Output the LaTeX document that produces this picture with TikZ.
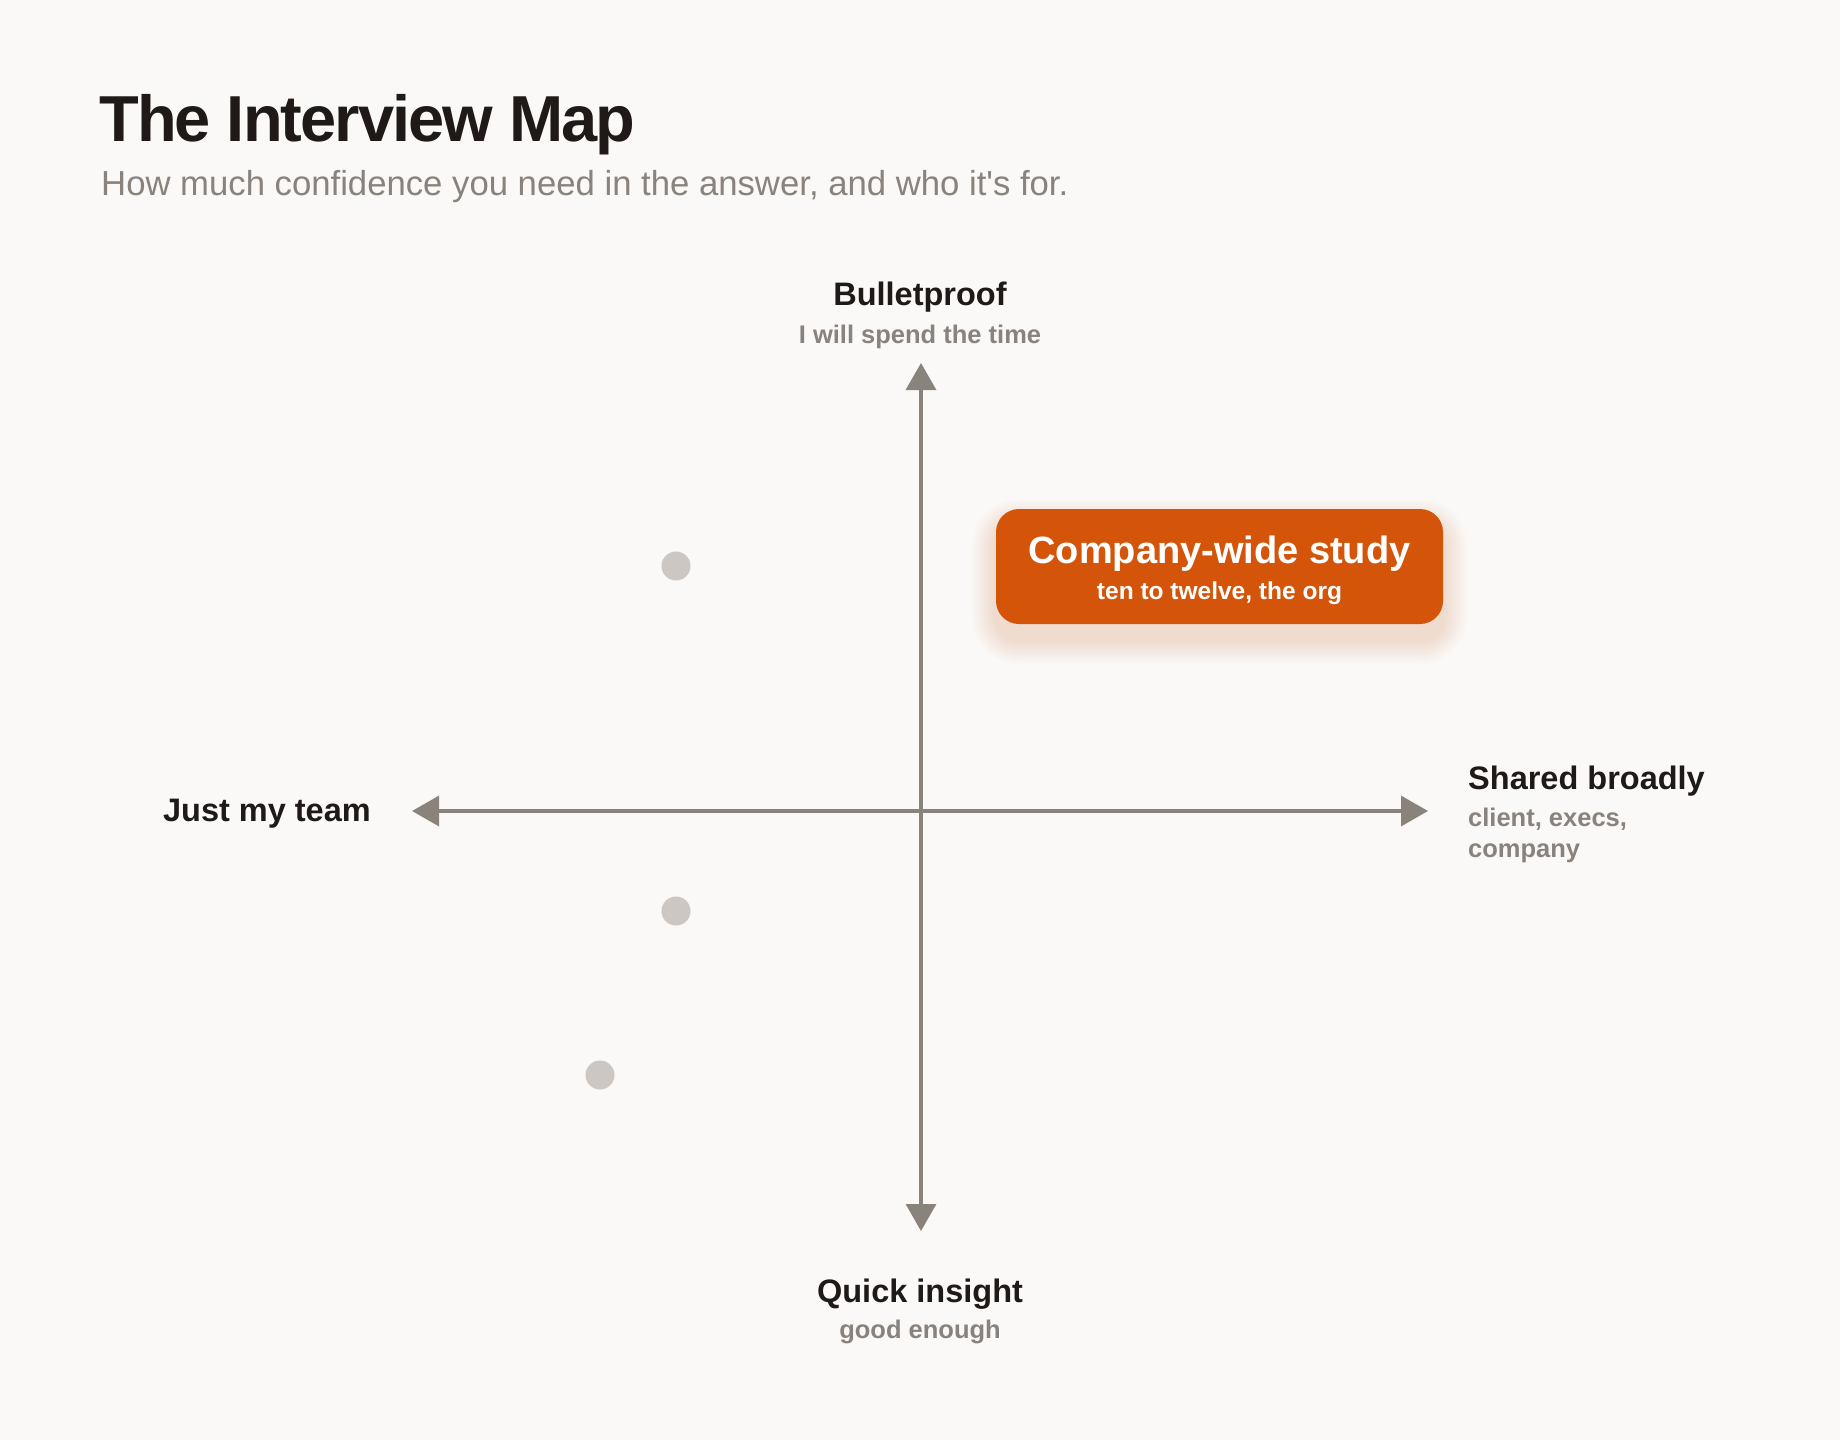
\documentclass[tikz,border=0pt]{standalone}
\usepackage{fontspec}
\setmainfont{Liberation Sans}
\usetikzlibrary{arrows.meta}
\definecolor{bg}{HTML}{FAF9F7}
\definecolor{ink}{HTML}{1F1A17}
\definecolor{muted}{HTML}{8A827C}
\definecolor{axisc}{HTML}{8A837C}
\definecolor{accent}{HTML}{D4550A}
\definecolor{dotc}{HTML}{CCC7C3}
\newfontfamily\titlefont[LetterSpace=-3]{Liberation Sans}
\newfontfamily\plainfont[Ligatures=TeXOff]{Liberation Sans}
\tikzset{
  x=1pt, y=-1pt,
  axisline/.style={draw=axisc, line width=3.5pt, {Triangle[width=30pt,length=27pt]}-{Triangle[width=30pt,length=27pt]}},
  poletitle/.style={font=\bfseries\fontsize{32.5}{36}\selectfont, text=ink, inner sep=0pt, anchor=base},
  polesub/.style={font=\bfseries\fontsize{25.5}{32}\selectfont, text=muted, inner sep=0pt, anchor=base},
  greydot/.style={circle, fill=dotc, minimum size=29pt, inner sep=0pt},
  studybox/.style={rounded corners=23pt, fill=accent, minimum width=447pt, minimum height=115pt, inner sep=0pt},
}
\begin{document}
\begin{tikzpicture}
\fill[bg] (0,0) rectangle (1840,1440);
\useasboundingbox (0,0) rectangle (1840,1440);
% title
\node[inner sep=0pt, anchor=base west, text=ink, font=\titlefont\bfseries\fontsize{65}{72}\selectfont] (title) at (99,141) {The Interview Map};
\node[inner sep=0pt, anchor=base west, text=muted, font=\plainfont\fontsize{34.7}{38}\selectfont] (subtitle) at (101,195) {How much confidence you need in the answer, and who it's for.};
% axes
\coordinate (top) at (921,363);
\coordinate (bottom) at (921,1231);
\coordinate (left) at (412,811);
\coordinate (right) at (1428,811);
\draw[axisline] (left) -- (right);
\draw[axisline] (bottom) -- (top);
% pole labels
\node[poletitle] (bp) at (920,305) {Bulletproof};
\node[polesub] (bps) at (920,343) {I will spend the time};
\node[poletitle] (qi) at (920,1302) {Quick insight};
\node[polesub] (qis) at (920,1338) {good enough};
\node[poletitle, anchor=base east] (jmt) at (371,821) {Just my team};
\node[poletitle, anchor=base west] (sb) at (1468,789) {Shared broadly};
\node[polesub, anchor=base west] (sbs1) at (1468,826) {client, execs,};
\node[polesub, anchor=base west] (sbs2) at (1468,857) {company};
% dots
\node[greydot] (d1) at (676,566) {};
\node[greydot] (d2) at (676,911) {};
\node[greydot] (d3) at (600,1075) {};
% study box with glow
\foreach \i in {1,...,10}{
  \fill[accent, opacity=0.014, rounded corners=23pt+\i*2.4pt] (996-\i*2.4,523-\i*2.4) rectangle (1443+\i*2.4,640+\i*2.4);
}
\node[studybox] (study) at (1219.5,566.5) {};
\node[inner sep=0pt, anchor=base, text=white, font=\bfseries\fontsize{38}{42}\selectfont] (studyt) at (1219.5,563) {Company-wide study};
\node[inner sep=0pt, anchor=base, text=white, font=\bfseries\fontsize{24.5}{28}\selectfont] (studys) at (1219.5,599) {ten to twelve, the org};
\end{tikzpicture}
\end{document}
